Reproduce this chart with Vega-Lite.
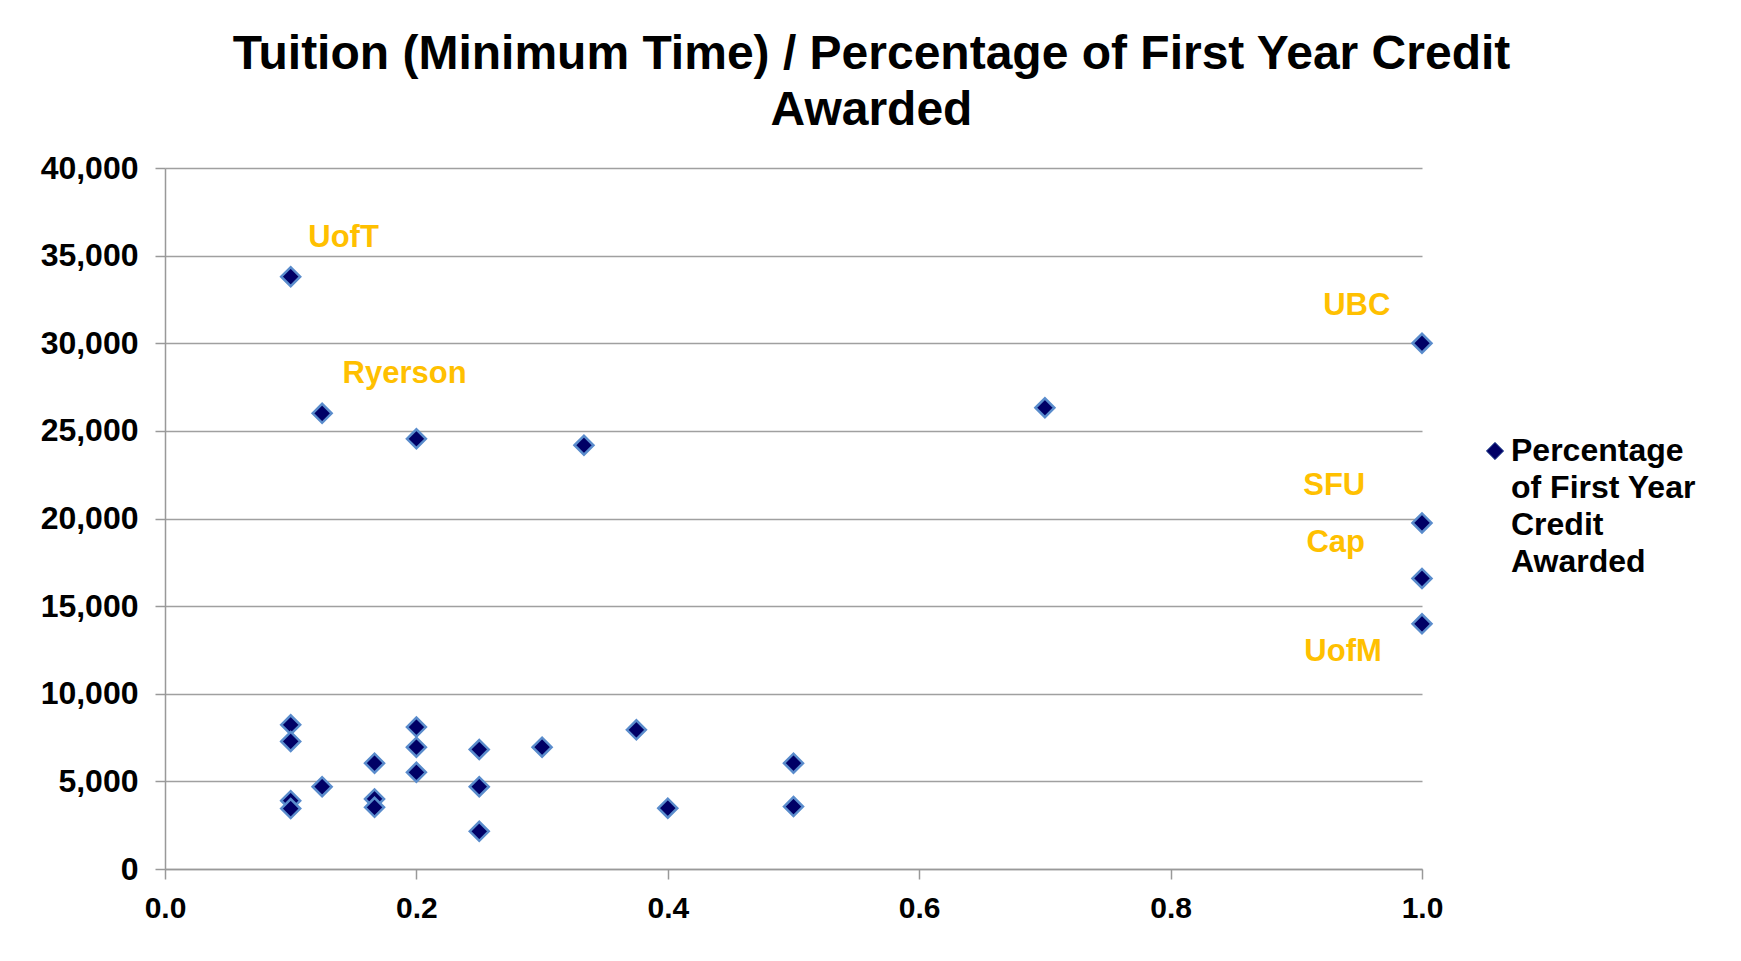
{
  "$schema": "https://vega.github.io/schema/vega-lite/v6.json",
  "autosize": {"type": "none"},
  "padding": {"left": 165, "top": 168, "right": 319, "bottom": 92},
  "width": 1257,
  "height": 701,
  "background": "white",
  "title": {
    "text": ["Tuition (Minimum Time) / Percentage of First Year Credit", "Awarded"],
    "font": "Liberation Sans",
    "fontSize": 48,
    "fontWeight": "bold",
    "color": "black",
    "lineHeight": 56,
    "anchor": "middle",
    "frame": "group",
    "dx": 78,
    "offset": 17
  },
  "config": {
    "view": {"stroke": null},
    "font": "Liberation Sans",
    "style": {"guide-label": {"lineHeight": 37}}
  },
  "datasets": {
    "points": [
      {"share": 0.1, "tuition": 33800},
      {"share": 0.125, "tuition": 26000},
      {"share": 0.2, "tuition": 24550},
      {"share": 0.3333, "tuition": 24180},
      {"share": 0.7, "tuition": 26320},
      {"share": 1.0, "tuition": 30000},
      {"share": 1.0, "tuition": 19750},
      {"share": 1.0, "tuition": 16580},
      {"share": 1.0, "tuition": 13990},
      {"share": 0.1, "tuition": 8230},
      {"share": 0.1, "tuition": 7280},
      {"share": 0.1, "tuition": 3900},
      {"share": 0.1, "tuition": 3450},
      {"share": 0.125, "tuition": 4700},
      {"share": 0.1667, "tuition": 6040},
      {"share": 0.1667, "tuition": 4000},
      {"share": 0.1667, "tuition": 3520},
      {"share": 0.2, "tuition": 8100},
      {"share": 0.2, "tuition": 6950},
      {"share": 0.2, "tuition": 5520},
      {"share": 0.25, "tuition": 6820},
      {"share": 0.25, "tuition": 4700},
      {"share": 0.25, "tuition": 2150},
      {"share": 0.3, "tuition": 6950},
      {"share": 0.375, "tuition": 7940},
      {"share": 0.4, "tuition": 3470},
      {"share": 0.5, "tuition": 6040},
      {"share": 0.5, "tuition": 3560}
    ],
    "labels": [
      {"name": "UofT", "lx": 0.114, "ly": 36000},
      {"name": "Ryerson", "lx": 0.1413, "ly": 28230},
      {"name": "UBC", "lx": 0.9214, "ly": 32150},
      {"name": "SFU", "lx": 0.9055, "ly": 21830},
      {"name": "Cap", "lx": 0.9081, "ly": 18610},
      {"name": "UofM", "lx": 0.9064, "ly": 12400}
    ]
  },
  "layer": [
    {
      "data": {"name": "points"},
      "mark": {"type": "point", "shape": "diamond", "filled": true, "size": 360, "opacity": 1, "stroke": "#5a8ccc", "strokeWidth": 2.5},
      "encoding": {
        "x": {
          "field": "share", "type": "quantitative",
          "scale": {"domain": [0, 1], "nice": false, "zero": false},
          "axis": {
            "title": null, "values": [0, 0.2, 0.4, 0.6, 0.8, 1.0], "format": ".1f",
            "grid": false, "tickSize": 10, "tickColor": "#999999", "domainColor": "#999999",
            "domainWidth": 1.5, "tickWidth": 1.5,
            "labelFont": "Liberation Sans", "labelFontSize": 30, "labelFontWeight": "bold",
            "labelColor": "black", "labelPadding": 14, "labelFlush": false
          }
        },
        "y": {
          "field": "tuition", "type": "quantitative",
          "scale": {"domain": [0, 40000], "nice": false},
          "axis": {
            "title": null, "values": [0, 5000, 10000, 15000, 20000, 25000, 30000, 35000, 40000], "format": ",.0f",
            "grid": true, "gridColor": "#a0a0a0", "gridWidth": 1.5,
            "tickSize": 10, "tickColor": "#999999", "domainColor": "#999999",
            "domainWidth": 1.5, "tickWidth": 1.5,
            "labelFont": "Liberation Sans", "labelFontSize": 32, "labelFontWeight": "bold",
            "labelColor": "black", "labelPadding": 17
          }
        },
        "color": {
          "datum": "Percentage of First Year Credit Awarded",
          "type": "nominal",
          "scale": {"range": ["#000066"]},
          "legend": {
            "title": null,
            "orient": "none",
            "legendX": 1314,
            "legendY": 267,
            "padding": 0,
            "symbolType": "diamond",
            "symbolSize": 300,
            "symbolFillColor": "#000066",
            "symbolStrokeColor": "#3a5a9a",
            "symbolStrokeWidth": 1,
            "labelExpr": "['Percentage', 'of First Year', 'Credit', 'Awarded']",
            "labelFont": "Liberation Sans",
            "labelFontSize": 32,
            "labelFontWeight": "bold",
            "labelColor": "black",
            "labelLimit": 400,
            "labelBaseline": "middle",
            "labelOffset": 0
          }
        }
      }
    },
    {
      "data": {"name": "labels"},
      "mark": {"type": "text", "align": "left", "baseline": "middle", "font": "Liberation Sans", "fontSize": 31, "fontWeight": "bold", "color": "#FFC000"},
      "encoding": {
        "x": {"field": "lx", "type": "quantitative"},
        "y": {"field": "ly", "type": "quantitative"},
        "text": {"field": "name"}
      }
    }
  ]
}
